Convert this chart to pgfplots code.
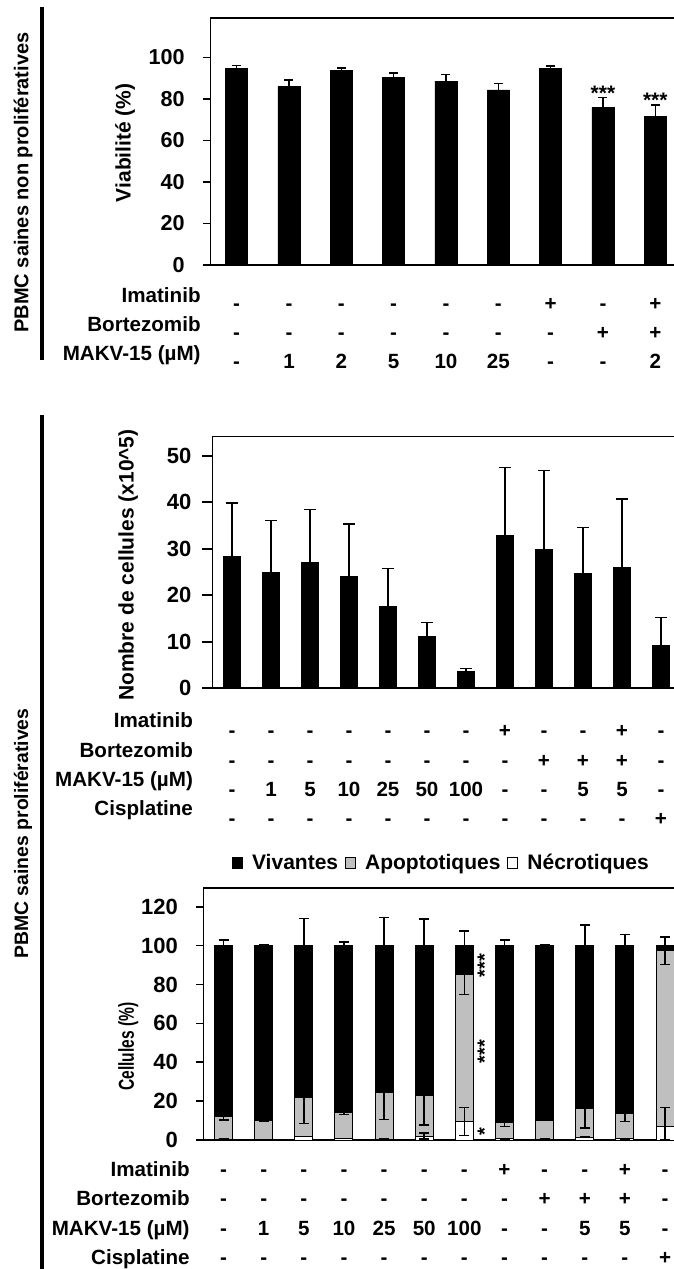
\documentclass[border=0pt]{standalone}
\usepackage{fontspec}
\setmainfont{Liberation Sans}
\newfontfamily\condB{Liberation Sans}[FakeStretch=0.72]
\usepackage{pgfplots}
\usepackage{pgfplotstable}
\pgfplotsset{compat=1.18}

\pgfplotstableread{
x y e
1 94.7 1.3
2 85.9 3.2
3 93.7 1.2
4 90.2 2.3
5 88.6 3.1
6 84.3 3.0
7 94.5 1.3
8 75.9 4.7
9 71.6 5.4
}\topdata

\pgfplotstableread{
x y e
1 28.3 11.5
2 24.9 11.2
3 27.1 11.3
4 24.0 11.3
5 17.6 8.2
6 11.1 3.0
7 3.7 0.6
8 32.8 14.7
9 29.8 17.0
10 24.6 10.0
11 26.0 14.7
12 9.3 5.9
}\middata

\pgfplotstableread{
x nec necp necm apo apoe viv vive
1 0.5 0 0 11.5 1.8 88.0 2.9
2 0.3 0 0 9.6 0 90.1 0.5
3 1.7 0 0 20.1 13.2 78.2 14.0
4 0.7 0 0 13.6 1.3 85.7 1.8
5 0.5 0 0 24.0 13.9 75.5 14.6
6 2.0 1.5 1.5 20.8 15.0 77.2 13.7
7 9.5 7.3 7.3 75.7 10.3 14.8 7.5
8 0.6 0 0 8.6 2.3 90.8 2.9
9 0.4 0 0 9.8 0 89.8 0.5
10 1.5 0 0 14.9 10.3 83.6 10.6
11 0.6 0 0 13.2 4.4 86.2 5.8
12 7.0 9.6 7.0 90.3 6.9 2.7 4.6
}\botdata

\newcommand\TR[3]{\strut#1\\\strut#2\\\strut#3}
\newcommand\FR[4]{\strut#1\\\strut#2\\\strut#3\\\strut#4}

\pgfplotsset{
  common/.style={
    scale only axis, anchor=south west, clip=false, enlargelimits=false,
    axis line style={line width=0.8pt, black},
    ytick align=outside, xtick align=inside,
    ytick pos=left, xtick pos=bottom,
    xtick style={draw=none},
    ytick style={line width=0.8pt, black},
    /pgf/number format/assume math mode=true,
    xticklabel style={align=center, inner sep=0pt, anchor=north},
    yticklabel style={inner sep=0pt, anchor=east},
    minor tick num=0,
  },
  ebar/.style 2 args={
    /pgfplots/error bars/y dir=#2,
    /pgfplots/error bars/y explicit,
    /pgfplots/error bars/error bar style={line width=0.75pt, black},
    /pgfplots/error bars/error mark options={rotate=90, mark size=#1, line width=0.75pt, black}},
}

\begin{document}
\begin{tikzpicture}
\path[use as bounding box, clip] (0pt,0pt) rectangle (337pt,634.5pt);
\begin{scope}[x=0.5pt,y=0.5pt]
\coordinate (topSW) at (210.5,1004);
\coordinate (midSW) at (212.5,580.7);
\coordinate (botSW) at (203.5,129);
\draw[line width=2pt] (41.7,1262.3) -- (41.7,909);
\draw[line width=2pt] (41.7,854) -- (41.7,-5);
\node[rotate=90, font=\fontsize{10}{12}\selectfont\bfseries] at (23,1086.5) {PBMC saines non prolifératives};
\node[rotate=90, font=\fontsize{9.7}{12}\selectfont\bfseries] at (23,435.5) {PBMC saines prolifératives};
\node[rotate=90, font=\fontsize{10.5}{12}\selectfont\bfseries] at (125,1126.3) {Viabilité (\%)};
\node[rotate=90, font=\fontsize{10.5}{12}\selectfont\bfseries] at (128.3,704) {Nombre de cellules (x10\textasciicircum 5)};
\node[rotate=90, font=\condB\fontsize{10.8}{12}\selectfont\bfseries] at (128.3,222.3) {Cellules (\%)};
\end{scope}

% ---------------- top chart
\begin{axis}[common, at={(topSW)}, width=235.5pt, height=123.35pt,
  xmin=0.5, xmax=9.5, ymin=0, ymax=118.8,
  ytick={0,20,...,100}, major tick length=4pt,
  yticklabel style={font=\fontsize{10.8}{12}\selectfont\bfseries},
  yticklabel shift=8.75pt,
  xtick={1,...,9},
  xticklabels={{\TR{-}{-}{-}},{\TR{-}{-}{1}},{\TR{-}{-}{2}},{\TR{-}{-}{5}},{\TR{-}{-}{10}},{\TR{-}{-}{25}},{\TR{+}{-}{-}},{\TR{-}{+}{-}},{\TR{+}{+}{2}}},
  xticklabel style={font=\fontsize{10.3}{14.5}\selectfont\bfseries},
  xticklabel shift=8.575pt,
  ybar, bar width=11pt]
\addplot[fill=black, draw=black, ebar={2.25pt}{plus}]
  table[x=x, y=y, y error=e] {\topdata};
\node[font=\fontsize{10.5}{12}\selectfont\bfseries] at (axis cs:8,82.8) {***};
\node[font=\fontsize{10.5}{12}\selectfont\bfseries] at (axis cs:9,79.2) {***};
\node[anchor=north east, inner sep=0pt, align=right, xshift=-4.75pt, yshift=-8.575pt,
  font=\fontsize{10.3}{14.5}\selectfont\bfseries] at (rel axis cs:0,0)
  {\TR{Imatinib}{Bortezomib}{MAKV-15 (µM)}};
\end{axis}

% ---------------- middle chart
\begin{axis}[common, at={(midSW)}, width=234pt, height=125.8pt,
  xmin=0.5, xmax=12.5, ymin=0, ymax=54.1,
  ytick={0,10,...,50}, major tick length=5pt,
  yticklabel style={font=\fontsize{11}{12}\selectfont\bfseries},
  yticklabel shift=5.4pt,
  xtick={1,...,12},
  xticklabels={{\FR{-}{-}{-}{-}},{\FR{-}{-}{1}{-}},{\FR{-}{-}{5}{-}},{\FR{-}{-}{10}{-}},{\FR{-}{-}{25}{-}},{\FR{-}{-}{50}{-}},{\FR{-}{-}{100}{-}},{\FR{+}{-}{-}{-}},{\FR{-}{+}{-}{-}},{\FR{-}{+}{5}{-}},{\FR{+}{+}{5}{-}},{\FR{-}{-}{-}{+}}},
  xticklabel style={font=\fontsize{10.3}{14.6}\selectfont\bfseries},
  xticklabel shift=9.35pt,
  ybar, bar width=8.75pt]
\addplot[fill=black, draw=black, ebar={2.9pt}{plus}]
  table[x=x, y=y, y error=e] {\middata};
\node[anchor=north east, inner sep=0pt, align=right, xshift=-9.6pt, yshift=-9.35pt,
  font=\fontsize{10.3}{14.6}\selectfont\bfseries] at (rel axis cs:0,0)
  {\FR{Imatinib}{Bortezomib}{MAKV-15 (µM)}{Cisplatine}};
\end{axis}

% ---------------- bottom chart
\begin{axis}[common, at={(botSW)}, width=240.8pt, height=125.85pt,
  xmin=0.5, xmax=12.5, ymin=0, ymax=129.5,
  ytick={0,20,...,120}, major tick length=3.7pt,
  yticklabel style={font=\fontsize{11}{12}\selectfont\bfseries},
  yticklabel shift=8.9pt,
  xtick={1,...,12},
  xticklabels={{\FR{-}{-}{-}{-}},{\FR{-}{-}{1}{-}},{\FR{-}{-}{5}{-}},{\FR{-}{-}{10}{-}},{\FR{-}{-}{25}{-}},{\FR{-}{-}{50}{-}},{\FR{-}{-}{100}{-}},{\FR{+}{-}{-}{-}},{\FR{-}{+}{-}{-}},{\FR{-}{+}{5}{-}},{\FR{+}{+}{5}{-}},{\FR{-}{-}{-}{+}}},
  xticklabel style={font=\fontsize{10.3}{14.75}\selectfont\bfseries},
  xticklabel shift=7.5pt,
  ybar stacked, bar width=9pt,
  reverse legend,
  legend columns=3,
  legend style={draw=none, fill=none, at={(0.0586,1.1005)}, anchor=west,
    inner sep=0pt, font=\fontsize{10.5}{12}\selectfont\bfseries,
    nodes={inner sep=0pt},
    /tikz/every odd column/.append style={column sep=4.5pt},
    /tikz/every even column/.append style={column sep=3.5pt}},
  ]
\addplot[fill=white, draw=black, line width=0.5pt,
  legend image code/.code={\draw[fill=white, draw=black, line width=0.5pt] (0pt,-2.75pt) rectangle (5pt,2.75pt);},
  ebar={2.5pt}{both}]
  table[x=x, y=nec, y error plus=necp, y error minus=necm] {\botdata};
\addlegendentry{Nécrotiques}
\addplot[fill=black!25, draw=black, line width=0.5pt,
  legend image code/.code={\draw[fill=black!25, draw=black, line width=0.5pt] (0pt,-2.75pt) rectangle (5pt,2.75pt);},
  ebar={2.5pt}{both}]
  table[x=x, y=apo, y error=apoe] {\botdata};
\addlegendentry{Apoptotiques}
\addplot[fill=black, draw=black, line width=0.5pt,
  legend image code/.code={\draw[fill=black, draw=black, line width=0.5pt] (0pt,-2.75pt) rectangle (5pt,2.75pt);},
  ebar={2.5pt}{plus}]
  table[x=x, y=viv, y error=vive] {\botdata};
\addlegendentry{Vivantes}
\node[rotate=90, font=\fontsize{10}{12}\selectfont\bfseries] at (axis cs:7.5,89.8) {***};
\node[rotate=90, font=\fontsize{10}{12}\selectfont\bfseries] at (axis cs:7.5,45.4) {***};
\node[rotate=90, font=\fontsize{10}{12}\selectfont\bfseries] at (axis cs:7.5,4.3) {*};
\node[anchor=north east, inner sep=0pt, align=right, xshift=-6.75pt, yshift=-7.5pt,
  font=\fontsize{10.3}{14.75}\selectfont\bfseries] at (rel axis cs:0,0)
  {\FR{Imatinib}{Bortezomib}{MAKV-15 (µM)}{Cisplatine}};
\end{axis}
\end{tikzpicture}
\end{document}
